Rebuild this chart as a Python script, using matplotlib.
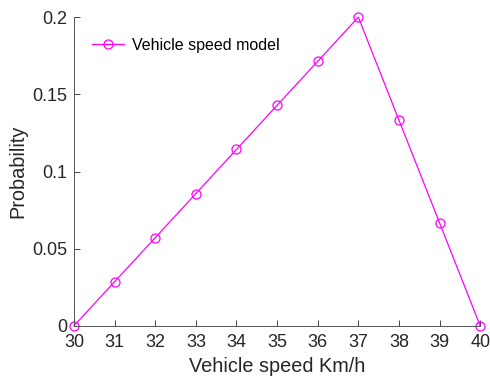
import numpy as np
import matplotlib
matplotlib.use("Agg")
from matplotlib import pyplot as plt

plt.rcParams['font.family'] = ['Liberation Sans', 'DejaVu Sans']

speed = [30, 31, 32, 33, 34, 35, 36, 37, 38, 39, 40]
prob = [0, 0.0286, 0.0571, 0.0857, 0.1143, 0.1429, 0.1714, 0.2, 0.1333, 0.0667, 0]
yticks = [0, 0.05, 0.1, 0.15, 0.2]
yticklabels = ["0", "0.05", "0.1", "0.15", "0.2"]

fig = plt.figure(figsize=(4.9, 3.82), dpi=100)
ax = fig.add_axes([0.151, 0.147, 0.829, 0.808])

ax.plot(speed, prob, color=(1, 0, 1), linewidth=0.9, marker='o',
        markersize=6.5, markerfacecolor='none', markeredgewidth=0.9,
        label='Vehicle speed model', clip_on=False)

ax.set_xlim(30, 40)
ax.set_ylim(0, 0.2)
ax.set_xticks(speed)
ax.set_yticks(yticks)
ax.set_yticklabels(yticklabels)
ax.tick_params(direction='in', length=4, width=0.6, colors='#262626',
               labelsize=13)
ax.tick_params(axis='x', pad=6)
ax.tick_params(axis='y', pad=5)
ax.spines['top'].set_visible(False)
ax.spines['right'].set_visible(False)
for s in ['left', 'bottom']:
    ax.spines[s].set_color('#555555')
    ax.spines[s].set_linewidth(0.7)

ax.set_xlabel('Vehicle speed Km/h', fontsize=14.3, color='#262626', labelpad=4)
ax.set_ylabel('Probability', fontsize=14.3, color='#262626', labelpad=3)

ax.legend(loc='upper left', frameon=False, fontsize=11.5, handlelength=2.0,
          handletextpad=0.5, bbox_to_anchor=(0.01, 0.98), borderaxespad=0.5)

fig.savefig('out.png', dpi=100)
